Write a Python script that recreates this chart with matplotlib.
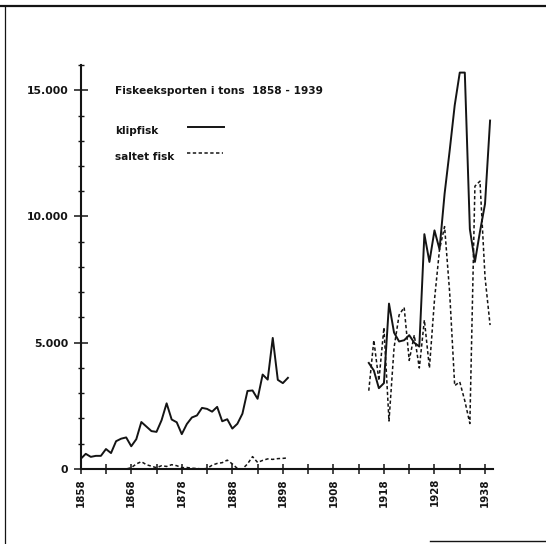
import matplotlib
matplotlib.use('Agg')
import matplotlib.pyplot as plt
from matplotlib.lines import Line2D
from matplotlib.ticker import MultipleLocator, FixedLocator, FuncFormatter

# ---- data (tons) ----
years_early = list(range(1858, 1900))
klipfisk_early = [400, 600, 480, 520, 520, 790, 630, 1100, 1200, 1250,
                  900, 1180, 1860, 1680, 1500, 1470, 1930, 2600, 1960, 1850,
                  1380, 1780, 2040, 2120, 2420, 2380, 2270, 2460, 1890, 1970,
                  1600, 1790, 2190, 3090, 3110, 2780, 3740, 3540, 5190, 3530,
                  3400, 3610]
saltet_early = [0, 0, 0, 0, 0, 0, 0, 0, 0, 0,
                50, 200, 290, 170, 110, 50, 130, 100, 170, 130,
                50, 60, 30, 20, 0, 20, 150, 220, 250, 350,
                200, 20, 0, 200, 490, 260, 340, 400, 380, 410,
                420, 440]

years_late = list(range(1915, 1940))
klipfisk_late = [4200, 3900, 3200, 3400, 6550, 5400, 5050, 5100, 5300, 5000,
                 4850, 9300, 8200, 9450, 8700, 10900, 12600, 14400, 15700, 15700,
                 9500, 8200, 9400, 10500, 13800]
saltet_late = [3100, 5100, 3500, 5600, 1900, 4800, 6100, 6400, 4300, 5300,
               4000, 5900, 4000, 6700, 8700, 9600, 7000, 3300, 3450, 2700,
               1800, 11200, 11400, 7600, 5700]

x_ticks = [1858, 1868, 1878, 1888, 1898, 1908, 1918, 1928, 1938]
y_ticks = [0, 5000, 10000, 15000]
title_text = "Fiskeeksporten i tons  1858 - 1939"
label_klip = "klipfisk"
label_salt = "saltet fisk"

# ---- figure ----
FONT = ['DejaVu Sans']
plt.rcParams['font.family'] = FONT
plt.rcParams['font.weight'] = 'bold'

fig = plt.figure(figsize=(5.46, 5.44), dpi=100)
ax = fig.add_axes([0.1478, 0.1379, 0.7544, 0.7426])

ink = '#141414'
solid_kw = dict(color=ink, lw=1.4, solid_joinstyle='round')
dash_kw = dict(color=ink, lw=1.1, linestyle=(0, (2.2, 1.6)))

ax.plot(years_early, klipfisk_early, **solid_kw)
ax.plot(years_late, klipfisk_late, **solid_kw)
ax.plot(years_early, saltet_early, **dash_kw)
ax.plot(years_late, saltet_late, **dash_kw)

ax.set_xlim(1858, 1939.5)
ax.set_ylim(0, 16000)

for s in ['top', 'right']:
    ax.spines[s].set_visible(False)
for s in ['left', 'bottom']:
    ax.spines[s].set_linewidth(1.5)
    ax.spines[s].set_color(ink)

ax.xaxis.set_major_locator(FixedLocator(x_ticks))
ax.xaxis.set_minor_locator(FixedLocator([y + 5 for y in x_ticks[:-1]]))
ax.yaxis.set_major_locator(FixedLocator(y_ticks))
ax.yaxis.set_minor_locator(MultipleLocator(1000))
ax.yaxis.set_major_formatter(FuncFormatter(lambda v, p: f"{int(v):,}".replace(",", ".")))

ax.tick_params(axis='x', which='both', direction='inout', length=7, width=1.1,
               color=ink, pad=3, labelsize=7.4, labelrotation=90, labelcolor=ink)
ax.tick_params(axis='y', which='major', direction='inout', length=10, width=1.1,
               color=ink, pad=4, labelsize=7.8, labelcolor=ink)
ax.tick_params(axis='y', which='minor', direction='inout', length=5, width=1.0, color=ink)
for lab in ax.get_xticklabels() + ax.get_yticklabels():
    lab.set_fontweight('bold')

# title and legend drawn inside the axes
ax.text(0.0833, 0.9356, title_text, transform=ax.transAxes, fontsize=7.7,
        fontweight='bold', va='center', ha='left', color=ink)
ax.text(0.0833, 0.8374, label_klip, transform=ax.transAxes, fontsize=7.6,
        fontweight='bold', va='center', ha='left', color=ink)
ax.text(0.0833, 0.7715, label_salt, transform=ax.transAxes, fontsize=7.6,
        fontweight='bold', va='center', ha='left', color=ink)
ax.add_line(Line2D([0.2608, 0.3482], [0.8458, 0.8458], transform=ax.transAxes, **solid_kw))
ax.add_line(Line2D([0.2584, 0.3458], [0.7814, 0.7814], transform=ax.transAxes, **dash_kw))

# scanned page border remnants
fig.add_artist(Line2D([0, 1], [1 - 6 / 544, 1 - 6 / 544], color=ink, lw=1.6))
fig.add_artist(Line2D([4.5 / 546, 4.5 / 546], [0, 1 - 6 / 544], color=ink, lw=0.9))
fig.add_artist(Line2D([430 / 546, 1], [3 / 544, 3 / 544], color=ink, lw=1.0))

fig.savefig('out.png', dpi=100)
